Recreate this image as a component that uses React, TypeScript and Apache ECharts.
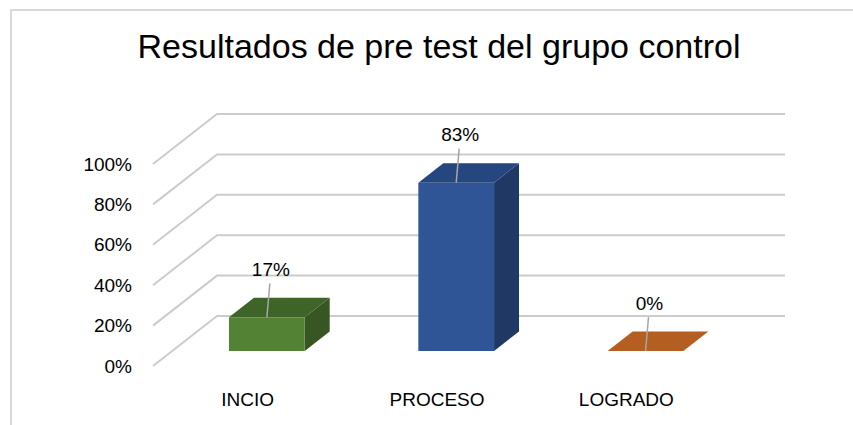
import React, { useEffect, useRef } from "react";
import * as echarts from "echarts";

const titleText = "Resultados de pre test del grupo control";
const categories = ["INCIO", "PROCESO", "LOGRADO"];
const values = [16.67, 83.33, 0];
const valueLabels = ["17%", "83%", "0%"];
const yTicks = [0, 20, 40, 60, 80, 100];
const frontColors = ["#548235", "#2f5597", "#c55a11"];
const topColors = ["#3f6428", "#25467e", "#b55e22"];
const sideColors = ["#375623", "#203864", "#8a4510"];

// 3D depth vector of the floor/wall (px) and bar placement within depth
const DX = 64;
const DY = -50;
const F = 0.3;
const B = 0.69;
const BAR_FRAC = 0.4;

export default function App() {
  const ref = useRef<HTMLDivElement | null>(null);

  useEffect(() => {
    if (!ref.current) return;
    const chart = echarts.init(ref.current, null, { renderer: "svg" });
    const font = "Liberation Sans";

    const option: any = {
      animation: false,
      backgroundColor: "#ffffff",
      title: {
        text: titleText,
        left: 439,
        top: 46,
        padding: 0,
        textAlign: "center",
        textVerticalAlign: "middle",
        textStyle: { fontSize: 34, fontWeight: "normal", fontFamily: font, color: "#000000" },
      },
      graphic: [
        {
          type: "rect",
          silent: true,
          z: -10,
          shape: { x: 11, y: 10, width: 900, height: 500 },
          style: { fill: "none", stroke: "#d9d9d9", lineWidth: 2 },
        },
      ],
      grid: { left: 153, right: 132, top: 164, bottom: 59, containLabel: false },
      xAxis: {
        type: "category",
        data: categories,
        axisLine: { show: false },
        axisTick: { show: false },
        splitLine: { show: false },
        axisLabel: { margin: 24, fontSize: 19, fontFamily: font, color: "#000000" },
      },
      yAxis: {
        type: "value",
        min: 0,
        max: 100,
        interval: 20,
        axisLine: { show: false },
        axisTick: { show: false },
        splitLine: { show: false },
        axisLabel: {
          margin: 21,
          fontSize: 19,
          fontFamily: font,
          color: "#000000",
          padding: [6, 0, 0, 0],
          formatter: "{value}%",
        },
      },
      series: [
        {
          type: "custom",
          silent: true,
          z: 1,
          data: yTicks.map((v) => [0, v]),
          encode: { x: 0, y: 1 },
          renderItem: (params: any, api: any) => {
            const cs = params.coordSys;
            const y = api.coord([0, api.value(1)])[1];
            return {
              type: "polyline",
              shape: {
                points: [
                  [cs.x, y],
                  [cs.x + DX, y + DY],
                  [cs.x + cs.width + DX, y + DY],
                ],
              },
              style: { stroke: "#cccccc", lineWidth: 2, fill: "none" },
            };
          },
        },
        {
          type: "custom",
          silent: true,
          z: 2,
          data: values.map((v, i) => [i, v]),
          encode: { x: 0, y: 1 },
          renderItem: (params: any, api: any) => {
            const i = params.dataIndex;
            const base = api.coord([api.value(0), 0]);
            const topPt = api.coord([api.value(0), api.value(1)]);
            const band = api.size([1, 0])[0];
            const w = band * BAR_FRAC;
            const cx = base[0];
            const y0 = base[1];
            const y1 = topPt[1];
            const xl = cx - w / 2;
            const xr = cx + w / 2;
            const fx = F * DX, fy = F * DY, bx = B * DX, by = B * DY;
            const frontTop = y1 + fy;
            const frontCx = cx + fx;
            const lx = frontCx + 4;
            const ly = frontTop - 48;
            const children: any[] = [
              {
                type: "polygon",
                shape: {
                  points: [
                    [xr + fx, y1 + fy],
                    [xr + bx, y1 + by],
                    [xr + bx, y0 + by],
                    [xr + fx, y0 + fy],
                  ],
                },
                style: { fill: sideColors[i] },
              },
              {
                type: "polygon",
                shape: {
                  points: [
                    [xl + fx, y1 + fy],
                    [xr + fx, y1 + fy],
                    [xr + bx, y1 + by],
                    [xl + bx, y1 + by],
                  ],
                },
                style: { fill: topColors[i] },
              },
              {
                type: "polygon",
                shape: {
                  points: [
                    [xl + fx, y1 + fy],
                    [xr + fx, y1 + fy],
                    [xr + fx, y0 + fy],
                    [xl + fx, y0 + fy],
                  ],
                },
                style: { fill: frontColors[i] },
              },
              {
                type: "line",
                shape: { x1: frontCx, y1: frontTop, x2: lx - 1, y2: ly + 14 },
                style: { stroke: "#a6a6a6", lineWidth: 1.5 },
              },
              {
                type: "text",
                x: lx,
                y: ly,
                style: {
                  text: valueLabels[i],
                  fontSize: 19,
                  fontFamily: font,
                  fill: "#000000",
                  align: "center",
                  verticalAlign: "middle",
                },
              },
            ];
            return { type: "group", children };
          },
        },
      ],
    };

    chart.setOption(option);
    return () => {
      chart.dispose();
    };
  }, []);

  return (
    <div
      ref={ref}
      style={{ position: "absolute", left: 0, top: 0, width: 853, height: 425 }}
    />
  );
}
